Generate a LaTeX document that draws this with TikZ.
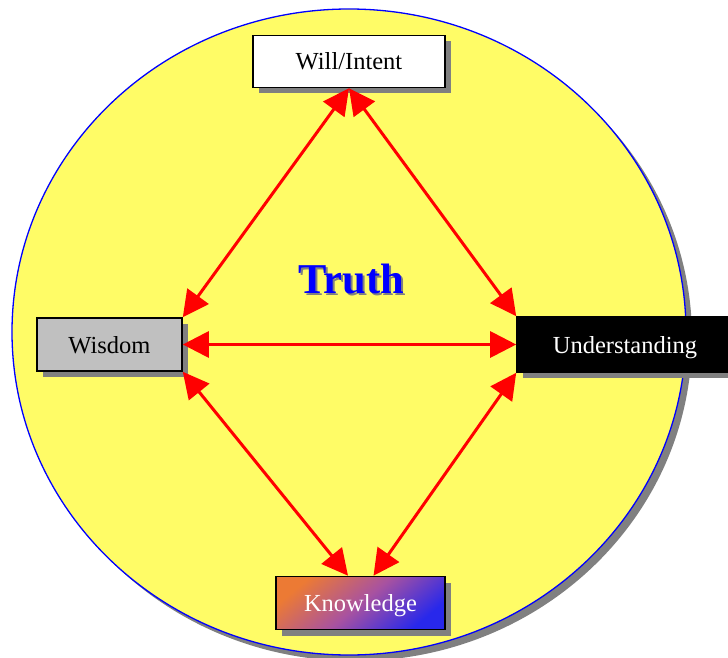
\documentclass[tikz,border=0pt]{standalone}
\usepackage{fontspec}
\setmainfont{Liberation Serif}
\usetikzlibrary{arrows.meta,shadows}
\definecolor{circfill}{RGB}{255,252,102}
\definecolor{shad}{RGB}{128,128,128}
\definecolor{wisgray}{RGB}{192,192,192}
\definecolor{korange}{RGB}{236,122,52}
\definecolor{kpurple}{RGB}{168,82,160}
\definecolor{kblue}{RGB}{40,40,235}
\tikzset{
  box/.style={draw=black, line width=1.6pt, inner sep=0pt, minimum height=53pt,
    text height=20pt, text depth=3pt,
    font=\fontsize{24.5}{27}\selectfont,
    drop shadow={shadow xshift=6pt, shadow yshift=-6pt, fill=shad, opacity=1}},
  link/.style={draw=red, line width=3pt, {Triangle[length=26pt,width=26pt]}-{Triangle[length=26pt,width=26pt]}},
}
\begin{document}
\begin{tikzpicture}[x=1pt,y=-1pt]
\useasboundingbox (0,0) rectangle (728,658);
\clip (0,0) rectangle (728,658);
\fill[shad] (355,338) ellipse [x radius=337pt, y radius=323pt];
\draw[blue, line width=1.3pt, fill=circfill] (349,332) ellipse [x radius=337pt, y radius=323pt];
\node[box, fill=white, minimum width=192pt, minimum height=52pt] (will) at (349,61.5) {Will/Intent};
\node[box, fill=wisgray, minimum width=145pt] (wis) at (109.5,344.5) {Wisdom};
\node[box, fill=black, text=white, minimum width=216pt, minimum height=55pt] (und) at (625,344.5) {Understanding};
\node[box, left color=korange, right color=kblue, middle color=kpurple, shading angle=40, text=white, minimum width=169pt] (know) at (360.5,603) {Knowledge};
\node[text=shad, font=\fontsize{42.5}{46}\selectfont\bfseries] (truthshadow) at (353.5,281.5) {Truth};
\node[text=blue, font=\fontsize{42.5}{46}\selectfont\bfseries] (truth) at (351.5,279.5) {Truth};
\draw[link] (will.south) -- (wis.north east);
\draw[link] (will.south) -- (und.north west);
\draw[link] (wis.east) -- (und.west);
\draw[link] (wis.south east) -- ([xshift=-12.5pt]know.north);
\draw[link] (und.south west) -- ([xshift=13pt]know.north);
\end{tikzpicture}
\end{document}
